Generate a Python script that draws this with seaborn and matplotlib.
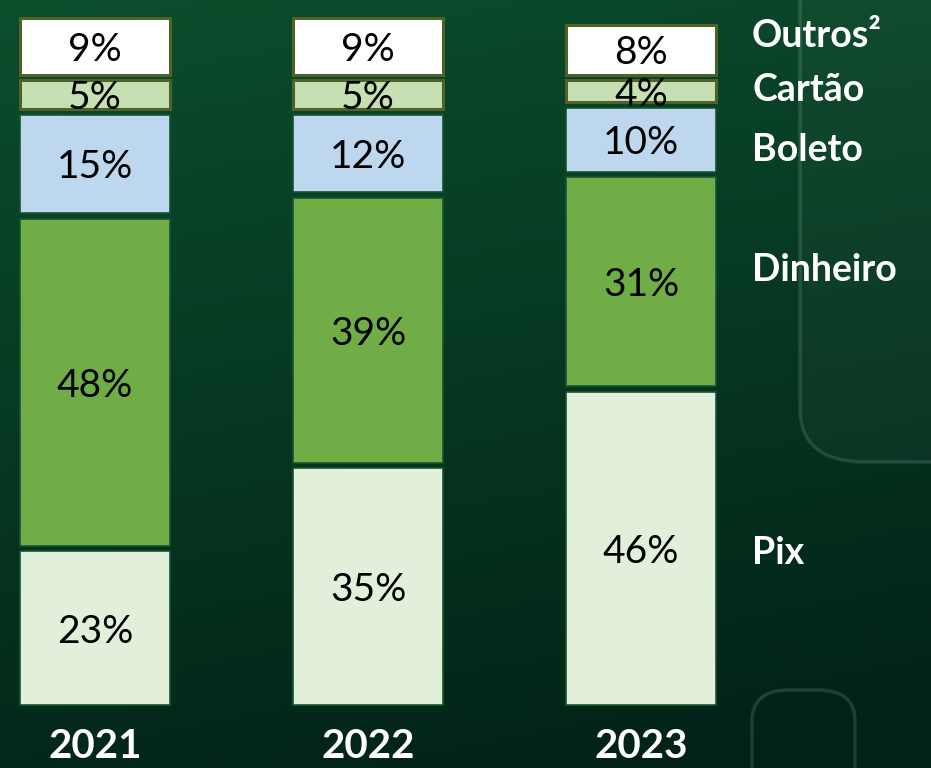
import numpy as np
import pandas as pd
import matplotlib
matplotlib.use("Agg")
import matplotlib.pyplot as plt
import seaborn as sns
from matplotlib.patches import FancyBboxPatch

years = ["2021", "2022", "2023"]
categories = ["Pix", "Dinheiro", "Boleto", "Cartão", "Outros"]
legend_labels = ["Pix", "Dinheiro", "Boleto", "Cartão", "Outros²"]
pix = [23, 35, 46]
dinheiro = [48, 39, 31]
boleto = [15, 12, 10]
cartao = [5, 5, 4]
outros = [9, 9, 8]
series = [pix, dinheiro, boleto, cartao, outros]

colors = ["#e2efda", "#70ad47", "#bdd7ee", "#c6e0b4", "#ffffff"]
edges = ["#14562e", "#14562e", "#14562e", "#4f6228", "#4f6228"]
lws = [1.2, 1.2, 1.2, 2.2, 2.2]
label_py = [550, 267, 147, 87, 33]  # pixel rows of the category labels

sns.set_theme(style="white")
plt.rcParams["font.family"] = ["Lato", "DejaVu Sans"]

W, H = 931, 768
fig = plt.figure(figsize=(W / 100, H / 100), dpi=100)

# background gradient
bg = fig.add_axes([0, 0, 1, 1])
yy, xx = np.mgrid[0:1:200j, 0:1:200j]
top = np.array([0x0b, 0x4e, 0x2c]) / 255
bot = np.array([0x02, 0x22, 0x17]) / 255
t = np.clip(yy * 0.85 + xx * 0.2, 0, 1)[..., None]
img = top * (1 - t) + bot * t
bg.imshow(img, extent=[0, 1, 1, 0], aspect="auto")
bg.set_xlim(0, 1); bg.set_ylim(1, 0)
bg.axis("off")
# subtle decorative panel outlines
bg.add_patch(FancyBboxPatch((800 / W, 1 - 462 / H), 0.3, 0.8, boxstyle="round,pad=0,rounding_size=0.07",
                            fc=(1, 1, 1, 0.03), ec=(1, 1, 1, 0.12), lw=2.5, transform=bg.transAxes))
bg.add_patch(FancyBboxPatch((752 / W, -0.2), 103 / W, 0.2 + 1 - 690 / H, boxstyle="round,pad=0,rounding_size=0.04",
                            fill=False, ec=(1, 1, 1, 0.12), lw=2.5, transform=bg.transAxes))

ax = fig.add_axes([0, 0, 1, 1])
ax.set_facecolor("none")
px = 6.93  # pixels per percentage unit
gap = 5.5 / px

df = pd.DataFrame({"year": years})
cum = np.zeros(3)
for i, vals in enumerate(series):
    v = np.array(vals, dtype=float)
    df["h"] = v - gap
    sns.barplot(data=df, x="year", y="h", order=years, color=colors[i], width=150 / 273,
                bottom=cum + gap / 2, edgecolor=edges[i], linewidth=lws[i], saturation=1, ax=ax)
    for j in range(3):
        ax.text(j, cum[j] + v[j] / 2, f"{vals[j]}%", ha="center", va="center_baseline",
                fontsize=28, color="black")
    cum = cum + v

# category labels at right
for i in range(len(series)):
    ax.text((752 - 95) / 273, (708 - label_py[i]) / px, legend_labels[i],
            ha="left", va="center_baseline", fontsize=27, fontweight="bold", color="white")

ax.set_xlim(-95 / 273, (W - 95) / 273)
ax.set_ylim(-(H - 708) / px, 100 + 15 / px)
ax.set_xticks([])
ax.set_yticks([])
for s in ax.spines.values():
    s.set_visible(False)
ax.set_xlabel(""); ax.set_ylabel("")
for j, yr in enumerate(years):
    ax.text(j, -(765 - 708) / px, yr, ha="center", va="bottom", fontsize=29,
            fontweight="bold", color="white")

fig.savefig("out.png", dpi=100)
